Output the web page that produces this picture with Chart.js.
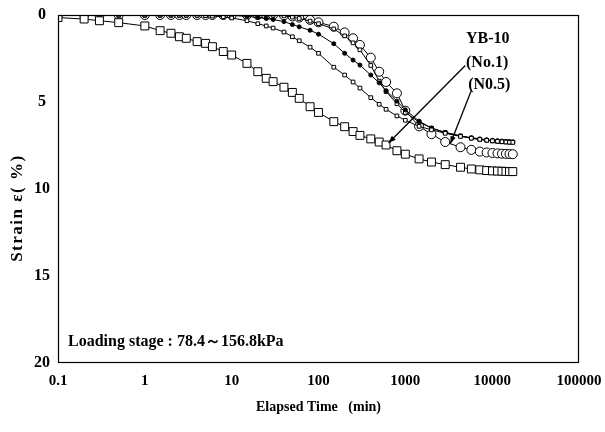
<!DOCTYPE html>
<html>
<head>
<meta charset="utf-8">
<script src="https://cdn.jsdelivr.net/npm/chart.js@4"></script>
<style>
  body { margin: 0; background: #fff; }
  canvas { display: block; }
</style>
</head>
<body>
<canvas id="strain-chart" width="605" height="432"></canvas>
<script>
// elapsed time (min), shared by all five curves
const times = [0.1, 0.2, 0.3, 0.5, 1, 1.5, 2, 2.5, 3, 4, 5, 6, 8, 10, 15, 20, 25, 30, 40, 50, 60, 80, 100,
    150, 200, 250, 300, 400, 500, 600, 800, 1000, 1440, 2000, 2880, 4320, 5760, 7200, 8640, 10080,
    11520, 12960, 14400, 15840, 17280];

// strain (%)
const circleStrain = [0, 0, 0, 0, 0, 0, 0, 0, 0, 0, 0, 0, 0, 0, 0, 0, 0, 0, 0.02, 0.08, 0.15, 0.28, 0.42,
    0.67, 1.0, 1.34, 1.72, 2.45, 3.26, 3.85, 4.5, 5.5, 6.4, 6.85, 7.3, 7.6, 7.75, 7.85, 7.9, 7.93,
    7.95, 7.97, 7.98, 7.99, 8.0];
const smallSquareUpper = [0.02, 0.02, 0.02, 0.02, 0.02, 0.02, 0.02, 0.02, 0.02, 0.02, 0.02, 0.02, 0.02, 0.02, 0.02, 0.02, 0.02, 0.02, 0.05, 0.12, 0.2, 0.35, 0.5,
    0.8, 1.2, 1.6, 2.0, 2.9, 3.8, 4.4, 5.1, 5.6, 6.15, 6.5, 6.75, 6.95, 7.08, 7.15, 7.2, 7.24,
    7.27, 7.29, 7.3, 7.31, 7.32];
const dotStrain = [0, 0, 0, 0, 0, 0, 0, 0, 0, 0, 0, 0, 0, 0.02, 0.08, 0.14, 0.2, 0.26, 0.38, 0.55, 0.68, 0.88, 1.1,
    1.65, 2.2, 2.59, 2.88, 3.45, 3.9, 4.35, 4.95, 5.45, 6.1, 6.5, 6.75, 6.95, 7.05, 7.12, 7.17, 7.2,
    7.22, 7.24, 7.26, 7.27, 7.28];
const smallSquareLower = [0, 0, 0, 0, 0, 0, 0, 0.01, 0.01, 0.02, 0.04, 0.06, 0.1, 0.17, 0.33, 0.5, 0.63, 0.75, 0.98, 1.25, 1.48, 1.85, 2.2,
    3.0, 3.45, 3.85, 4.2, 4.75, 5.13, 5.42, 5.8, 6.05, 6.4, 6.6, 6.8, 6.98, 7.08, 7.15, 7.2, 7.23,
    7.26, 7.28, 7.3, 7.31, 7.32];
const squareStrain = [0.15, 0.23, 0.33, 0.44, 0.63, 0.9, 1.05, 1.25, 1.34, 1.53, 1.63, 1.82, 2.1, 2.3, 2.78, 3.26, 3.64, 3.83, 4.15, 4.45, 4.79, 5.27, 5.6,
    6.13, 6.42, 6.7, 6.92, 7.12, 7.3, 7.47, 7.8, 8.0, 8.27, 8.45, 8.6, 8.75, 8.85, 8.9, 8.94, 8.96,
    8.97, 8.98, 8.99, 9.0, 9.0];

const xTicks = [0.1, 1, 10, 100, 1000, 10000, 100000];
const yTicks = [0, 5, 10, 15, 20];

// text labels and arrows, in data units (time, strain)
const notes = [
    { text: 'YB-10', t: 5000, s: 1.38 },
    { text: '(No.1)', t: 5000, s: 2.76 },
    { text: '(N0.5)', t: 5300, s: 4.0 }
];
const arrows = [
    { from: [4900, 2.9], to: [640, 7.36] },
    { from: [5800, 4.3], to: [3300, 7.4] }
];
const stageText = 'Loading stage : 78.4～156.8kPa';
const yTitle = 'Strain ε( %)';

const serif = '"Liberation Serif", "Times New Roman", serif';

function pts(values) {
    return times.map((t, i) => ({ x: t, y: values[i] }));
}

const extras = {
    id: 'extras',
    afterDraw(chart) {
        const { ctx, chartArea: a, scales: { x, y } } = chart;
        ctx.save();
        ctx.strokeStyle = '#000';
        ctx.lineWidth = 1.2;
        ctx.strokeRect(a.left + 0.5, a.top + 0.5, a.right - a.left - 1, a.bottom - a.top - 1);

        ctx.fillStyle = '#000';
        ctx.font = 'bold 16px ' + serif;
        ctx.textAlign = 'left';
        ctx.textBaseline = 'middle';
        notes.forEach(n => ctx.fillText(n.text, x.getPixelForValue(n.t), y.getPixelForValue(n.s)));

        ctx.lineWidth = 1.3;
        arrows.forEach(ar => {
            const x0 = x.getPixelForValue(ar.from[0]), y0 = y.getPixelForValue(ar.from[1]);
            const x1 = x.getPixelForValue(ar.to[0]), y1 = y.getPixelForValue(ar.to[1]);
            const ang = Math.atan2(y1 - y0, x1 - x0);
            ctx.beginPath();
            ctx.moveTo(x0, y0);
            ctx.lineTo(x1, y1);
            ctx.stroke();
            ctx.beginPath();
            ctx.moveTo(x1, y1);
            ctx.lineTo(x1 - 8 * Math.cos(ang - 0.35), y1 - 8 * Math.sin(ang - 0.35));
            ctx.lineTo(x1 - 8 * Math.cos(ang + 0.35), y1 - 8 * Math.sin(ang + 0.35));
            ctx.closePath();
            ctx.fill();
        });

        ctx.fillText(stageText, a.left + 10, y.getPixelForValue(18.8));

        // y axis title
        ctx.translate(18, y.getPixelForValue(11.1));
        ctx.rotate(-Math.PI / 2);
        ctx.textAlign = 'center';
        ctx.font = 'bold 17px ' + serif;
        ctx.letterSpacing = '1.5px';
        ctx.fillText(yTitle, 0, 0);
        ctx.restore();
    }
};

function series(values, style, radius, fill) {
    return {
        data: pts(values),
        borderColor: '#000',
        borderWidth: 1,
        pointStyle: style,
        pointRadius: radius,
        pointBorderWidth: 1,
        pointBorderColor: '#000',
        pointBackgroundColor: fill,
        showLine: true,
        tension: 0
    };
}

const ctx = document.getElementById('strain-chart').getContext('2d');
new Chart(ctx, {
    type: 'scatter',
    data: {
        datasets: [
            series(squareStrain, 'rect', 5.6, '#fff'),
            series(smallSquareLower, 'rect', 2.6, '#fff'),
            series(dotStrain, 'circle', 2, '#000'),
            series(smallSquareUpper, 'rect', 2.6, '#fff'),
            series(circleStrain, 'circle', 4.5, '#fff')
        ]
    },
    options: {
        responsive: false,
        animation: false,
        layout: { padding: { left: 0, right: 26, top: 15, bottom: 0 } },
        plugins: { legend: { display: false }, tooltip: { enabled: false } },
        scales: {
            x: {
                type: 'logarithmic',
                min: 0.1,
                max: 100000,
                afterBuildTicks: s => { s.ticks = xTicks.map(v => ({ value: v })); },
                afterFit: s => { s.height = 69; s.paddingLeft = 0; s.paddingRight = 0; },
                grid: { display: false, drawTicks: false },
                border: { display: false },
                ticks: {
                    color: '#000',
                    padding: 9,
                    maxRotation: 0,
                    font: { family: serif, size: 15, weight: 'bold' },
                    callback: v => String(v)
                },
                title: {
                    display: true,
                    text: 'Elapsed Time   (min)',
                    color: '#000',
                    font: { family: serif, size: 14, weight: 'bold' },
                    padding: { bottom: 16 }
                }
            },
            y: {
                reverse: true,
                min: 0,
                max: 20,
                afterBuildTicks: s => { s.ticks = yTicks.map(v => ({ value: v })); },
                afterFit: s => { s.width = 58; s.paddingTop = 0; s.paddingBottom = 0; },
                grid: { display: false, drawTicks: false },
                border: { display: false },
                ticks: {
                    color: '#000',
                    padding: 8,
                    crossAlign: 'center',
                    font: { family: serif, size: 16, weight: 'bold' }
                }
            }
        }
    },
    plugins: [extras]
});
</script>
</body>
</html>
